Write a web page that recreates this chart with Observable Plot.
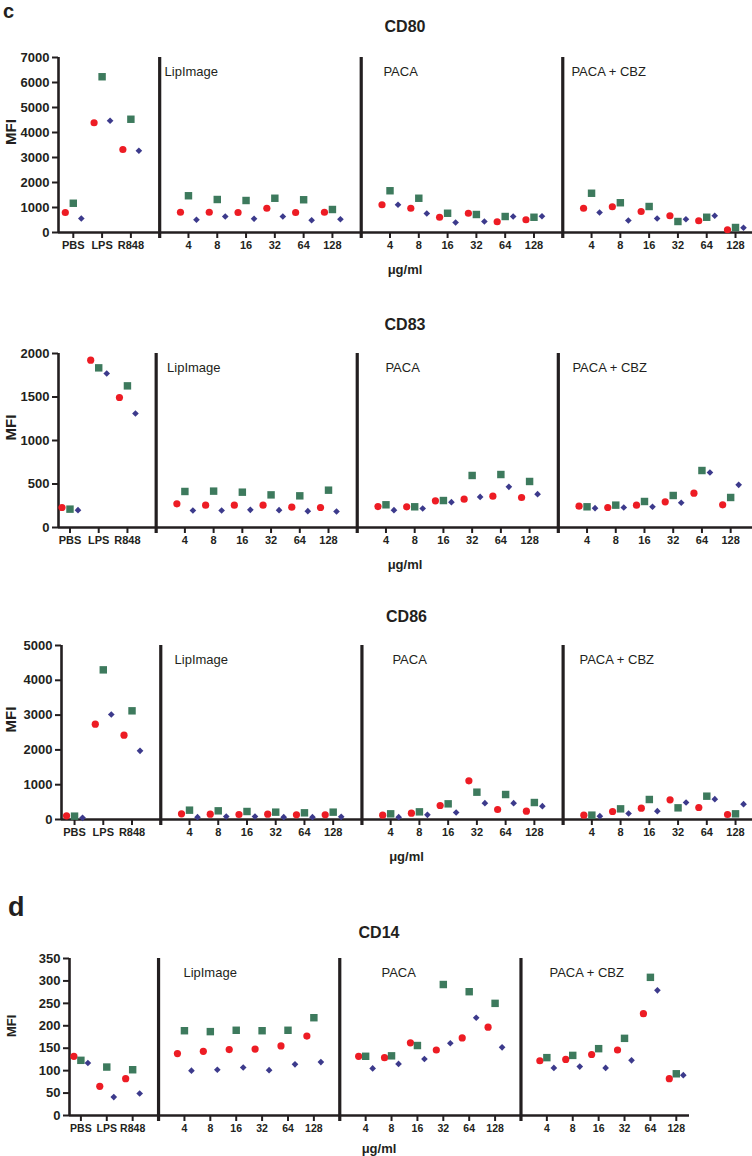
<!DOCTYPE html>
<html>
<head>
<meta charset="utf-8">
<script src="https://cdn.jsdelivr.net/npm/d3@7"></script>
<script src="https://cdn.jsdelivr.net/npm/@observablehq/plot@0.6"></script>
<style>
  body { margin: 0; background: #fff; font-family: "Liberation Sans", Arial, sans-serif; color: #231f20; }
  #fig { position: relative; width: 752px; height: 1156px; overflow: hidden; }
  .abs { position: absolute; }
  .letter { font-weight: bold; line-height: normal; }
  .title { font-weight: bold; font-size: 16px; line-height: 18px; text-align: center; }
  .unit { font-weight: bold; font-size: 13px; line-height: 16px; text-align: center; }
</style>
</head>
<body>
<div id="fig"></div>
<script>
// x categories: three controls, then the dose series of each formulation
const categories = ["PBS", "LPS", "R848",
  "4", "8", "16", "32", "64", "128",
  "4", "8", "16", "32", "64", "128",
  "4", "8", "16", "32", "64", "128"];
const groups = ["control", "control", "control",
  "LipImage", "LipImage", "LipImage", "LipImage", "LipImage", "LipImage",
  "PACA", "PACA", "PACA", "PACA", "PACA", "PACA",
  "PACA + CBZ", "PACA + CBZ", "PACA + CBZ", "PACA + CBZ", "PACA + CBZ", "PACA + CBZ"];
const groupNames = ["LipImage", "PACA", "PACA + CBZ"];

// MFI values, same order as categories (red circles, green squares, purple diamonds)
const cd80Red    = [800, 4390, 3320, 810, 810, 800, 970, 800, 810, 1110, 970, 610, 770, 430, 510, 970, 1030, 840, 670, 470, 110];
const cd80Green  = [1170, 6230, 4530, 1470, 1320, 1280, 1370, 1310, 920, 1670, 1370, 770, 720, 640, 610, 1570, 1190, 1040, 440, 610, 200];
const cd80Purple = [560, 4470, 3270, 510, 640, 550, 640, 490, 530, 1110, 760, 400, 440, 640, 650, 800, 480, 560, 530, 670, 190];

const cd83Red    = [230, 1923, 1494, 272, 257, 257, 257, 234, 230, 241, 238, 307, 326, 360, 345, 245, 230, 257, 295, 395, 261];
const cd83Green  = [211, 1835, 1628, 414, 418, 406, 375, 364, 429, 261, 238, 310, 598, 609, 529, 238, 257, 299, 368, 655, 345];
const cd83Purple = [199, 1770, 1310, 195, 195, 203, 199, 188, 184, 199, 218, 291, 352, 467, 383, 222, 230, 238, 284, 632, 490];

const cd86Red    = [105, 2740, 2423, 163, 153, 144, 153, 134, 134, 125, 182, 402, 1110, 287, 239, 125, 230, 326, 565, 345, 144];
const cd86Green  = [96, 4300, 3123, 268, 249, 230, 211, 192, 211, 163, 220, 450, 785, 718, 488, 125, 306, 575, 335, 670, 163];
const cd86Purple = [48, 3017, 1973, 67, 86, 86, 67, 67, 77, 67, 134, 201, 469, 469, 383, 96, 172, 239, 488, 584, 441];

const cd14Red    = [132, 65, 82, 138, 143, 147, 148, 155, 177, 132, 129, 162, 146, 173, 197, 122, 125, 136, 146, 227, 82];
const cd14Green  = [123, 108, 102, 189, 187, 190, 189, 190, 218, 132, 133, 156, 292, 276, 250, 129, 134, 149, 172, 308, 93];
const cd14Purple = [117, 41, 49, 100, 102, 107, 101, 114, 119, 105, 115, 126, 161, 218, 152, 106, 109, 106, 123, 279, 90];

const ink = "#231f20";
const groupOrder = ["control", "LipImage", "PACA", "PACA + CBZ"];
// slot on the x axis: one empty slot between groups for the divider
const pos = categories.map((c, i) => i + 1 + groupOrder.indexOf(groups[i]));
const dividers = [4, 11, 18];
const labelOf = new Map(pos.map((p, i) => [p, categories[i]]));

const panels = [
  {name: "CD80", top: 40, ml: 58, mr: 0, xd: [0.486, 24.59], h: 175, mb: 48, yMax: 7000, step: 1000, gap: 30,
   series: [cd80Red, cd80Green, cd80Purple], labelX: [4.17, 11.77, 18.3], mfi: 15, xFont: 11, off: 8},
  {name: "CD83", top: 336, ml: 58, mr: 0, xd: [0.6, 24.76], h: 174, mb: 48, yMax: 2000, step: 500, gap: 28,
   series: [cd83Red, cd83Green, cd83Purple], labelX: [4.38, 11.98, 18.49], mfi: 15, xFont: 11, off: 8},
  {name: "CD86", top: 628, ml: 61, mr: 0, xd: [0.546, 24.59], h: 174, mb: 48, yMax: 5000, step: 1000, gap: 28,
   series: [cd86Red, cd86Green, cd86Purple], labelX: [4.48, 12.06, 18.57], mfi: 15, xFont: 11, off: 8},
  {name: "CD14", top: 941, ml: 69, mr: 63, xd: [0.56, 24.51], h: 157, mb: 41, yMax: 350, step: 50, gap: 25,
   series: [cd14Red, cd14Green, cd14Purple], labelX: [4.96, 12.61, 19.1], mfi: 13, xFont: 10.5, off: 7}
];

const looks = [
  {symbol: "circle", fill: "#ed1c24", r: 3.6, k: -1},
  {symbol: "square", fill: "#3d7a5d", r: 4.2, k: 0},
  {symbol: "diamond2", fill: "#3c3a8c", r: 3.0, k: 1}
];

const fig = document.querySelector("#fig");

function addDiv(cls, text, style) {
  const d = document.createElement("div");
  d.className = "abs " + cls;
  d.textContent = text;
  Object.assign(d.style, style);
  fig.append(d);
}

for (const p of panels) {
  const mt = 17;
  const height = mt + p.h + p.mb;
  const marks = [];
  p.series.forEach((vals, s) => {
    const rows = vals.map((v, i) => ({pos: pos[i], v}));
    const lk = looks[s];
    marks.push(Plot.dot(rows, {x: "pos", y: "v", symbol: lk.symbol, fill: lk.fill, r: lk.r, dx: lk.k * p.off}));
  });

  const plot = Plot.plot({
    width: 752,
    height,
    marginTop: mt,
    marginBottom: p.mb,
    marginLeft: p.ml,
    marginRight: p.mr,
    style: {fontFamily: "Liberation Sans, Arial, sans-serif", color: ink, background: "white", overflow: "visible"},
    x: {domain: p.xd},
    y: {domain: [0, p.yMax]},
    marks: [
      Plot.axisY({ticks: d3.range(0, p.yMax + 1, p.step), tickFormat: d => String(d), tickSize: 6, tickPadding: 3,
        fontSize: 13, fontWeight: "bold", strokeWidth: 2, label: null}),
      Plot.axisX({ticks: pos, tickFormat: d => labelOf.get(d), tickSize: 6, tickPadding: 3,
        fontSize: p.xFont, fontWeight: "bold", strokeWidth: 2, label: null}),
      Plot.ruleX(dividers, {stroke: ink, strokeWidth: 3.2, insetBottom: -6}),
      Plot.ruleX([p.xd[0]], {stroke: ink, strokeWidth: 2.6}),
      Plot.ruleY([0], {stroke: ink, strokeWidth: 2.6}),
      Plot.text(groupNames, {x: (d, i) => p.labelX[i], y: p.yMax, text: d => d, dy: 14, textAnchor: "start",
        fontSize: 13, fontWeight: "normal", fill: ink}),
      Plot.text(["MFI"], {frameAnchor: "left", rotate: -90, dx: -(p.ml - 11), fontSize: p.mfi, fontWeight: "bold", fill: ink}),
      ...marks
    ]
  });
  plot.style.position = "absolute";
  plot.style.left = "0px";
  plot.style.top = p.top + "px";
  fig.append(plot);

  const plotLeft = p.ml, plotW = 752 - p.ml - p.mr;
  const plotTop = p.top + mt;
  const axisY = plotTop + p.h;
  addDiv("title", p.name, {left: plotLeft + "px", width: plotW + "px", top: (plotTop - p.gap - 9) + "px"});
  addDiv("unit", "\u03bcg/ml", {left: plotLeft + "px", width: plotW + "px", top: (axisY + (p.name === "CD14" ? 34 : 38) - 8) + "px"});
}

// panel letters
addDiv("letter", "c", {left: "3px", top: "0px", fontSize: "20px"});
addDiv("letter", "d", {left: "8px", top: "892px", fontSize: "27px"});
</script>
</body>
</html>
